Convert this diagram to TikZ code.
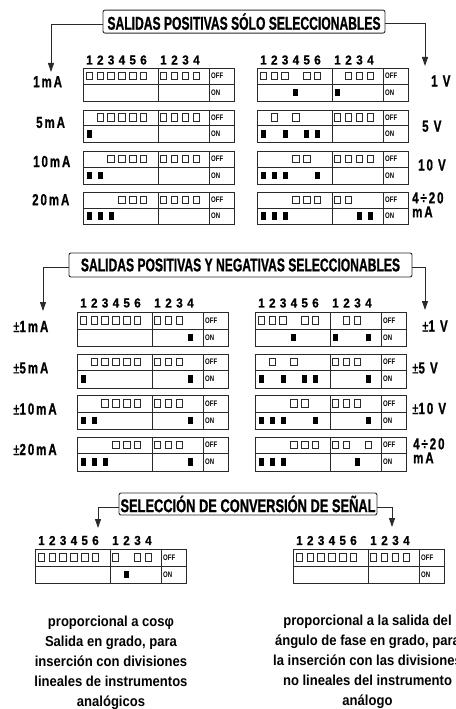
\documentclass[tikz,border=0pt]{standalone}
\usepackage{fontspec}
\setmainfont{Liberation Sans}
\newfontfamily\tf[FakeStretch=0.655,FakeBold=0.8]{Liberation Sans}
\newfontfamily\tfc[FakeStretch=0.695,FakeBold=0.8]{Liberation Sans}
\newfontfamily\df[FakeStretch=0.9,FakeBold=0.6]{Liberation Sans}
\newfontfamily\swf[FakeStretch=0.75]{Liberation Sans}
\newfontfamily\lf[FakeStretch=0.72,LetterSpace=12,FakeBold=0.8]{Liberation Sans}
\newfontfamily\pf[FakeStretch=0.9]{Liberation Sans}
\usetikzlibrary{arrows.meta}
\definecolor{ln}{HTML}{2A2A2A}
\tikzset{
  tbl/.style={draw=ln, line width=0.9pt},
  pinoff/.style={draw=ln, line width=0.8pt},
  pinon/.style={fill=black},
  titlebox/.style={draw=ln, line width=0.9pt, rounded corners=2pt, minimum height=23pt, inner sep=0pt,
    font=\tf\bfseries\fontsize{18.5}{18.5}\selectfont},
  conn/.style={draw=ln, line width=0.9pt, -{Triangle[width=6pt,length=9pt]}},
  lbl/.style={font=\lf\bfseries\fontsize{16}{14}\selectfont, inner sep=0pt, anchor=west},
  dig/.style={font=\df\bfseries\fontsize{13}{13}\selectfont, inner sep=0pt},
  swl/.style={font=\swf\bfseries\fontsize{8}{8}\selectfont, inner sep=0pt, anchor=west},
  para/.style={font=\pf\bfseries\fontsize{14.5}{20}\selectfont, inner sep=0pt, anchor=base},
}
% #1 name, #2 x, #3 y top, #4 height, #5 col1 off, #6 col1 on, #7 col2 off, #8 col2 on
\newcommand\dipsw[8]{%
  \begin{scope}[shift={(#2,#3)}]
    \node[tbl, anchor=north west, minimum width=151pt, minimum height=#4pt, inner sep=0pt] (#1) at (0,0) {};
    \draw[tbl] (75,0) -- (75,#4) (126,0) -- (126,#4) (0,#4/2) -- (151,#4/2);
    \node[swl] (#1-off) at (128,#4/4) {OFF};
    \node[swl] (#1-on) at (128,3*#4/4) {ON};
    \foreach \i in {#5} {\ifnum\i>0 \draw[pinoff] ({6.5+10.8*(\i-1)-3.25},{#4/4-3.75}) rectangle ++(6.5,7.5);\fi}
    \foreach \i in {#6} {\ifnum\i>0 \fill[pinon] ({6.5+10.8*(\i-1)-2.5},{3*#4/4-3.75}) rectangle ++(5,7.5);\fi}
    \foreach \i in {#7} {\ifnum\i>0 \draw[pinoff] ({75+5.5+11*(\i-1)-3.25},{#4/4-3.75}) rectangle ++(6.5,7.5);\fi}
    \foreach \i in {#8} {\ifnum\i>0 \fill[pinon] ({75+5.5+11*(\i-1)-2.5},{3*#4/4-3.75}) rectangle ++(5,7.5);\fi}
  \end{scope}}
% #1 name, #2 x, #3 y centre
\newcommand\diphead[3]{%
  \begin{scope}[shift={(#2,#3)}]
    \foreach \i in {1,...,6} {\node[dig] (#1-a\i) at ({6.5+10.8*(\i-1)},0) {\i};}
    \foreach \i in {1,...,4} {\node[dig] (#1-b\i) at ({75+5.5+11*(\i-1)},0) {\i};}
  \end{scope}}
\begin{document}
\begin{tikzpicture}[x=1pt,y=-1pt]
\useasboundingbox (0,0) rectangle (455,709);
\clip (0,0) rectangle (455,709);
\fill[white] (0,0) rectangle (455,709);

% ---------- Section 1 ----------
\node[titlebox, minimum width=282pt] (t1) at (244,21.6) {SALIDAS POSITIVAS SÓLO SELECCIONABLES};
\coordinate (t1l) at (51,72);
\coordinate (t1r) at (425,66);
\draw[conn] ([yshift=-2.5pt]t1.west) -| (t1l);
\draw[conn] ([yshift=-2pt]t1.east) -| (t1r);

\diphead{h1a}{83}{60}
\diphead{h1b}{257}{60}
\dipsw{s1a}{83}{68}{32.5}{1,2,3,4,5,6}{0}{1,2,3,4}{0}
\dipsw{s1b}{83}{109.5}{32.5}{2,3,4,5,6}{1}{1,2,3,4}{0}
\dipsw{s1c}{83}{151}{32.5}{3,4,5,6}{1,2}{1,2,3,4}{0}
\dipsw{s1d}{83}{192}{32}{4,5,6}{1,2,3}{1,2,3,4}{0}
\dipsw{s1e}{257}{68}{32.5}{1,2,3,5,6}{4}{2,3,4}{1}
\dipsw{s1f}{257}{109.5}{32.5}{2,4}{1,3,5,6}{1,2,3,4}{0}
\dipsw{s1g}{257}{151}{32.5}{4,5}{1,2,3,6}{1,2,3,4}{0}
\dipsw{s1h}{257}{192}{32}{4,5,6}{1,2,3}{1,2}{3,4}

\node[lbl] (l1a) at (33,81.7) {1mA};
\node[lbl] (l1b) at (36,122.5) {5mA};
\node[lbl] (l1c) at (33,161.5) {10mA};
\node[lbl] (l1d) at (32,199.7) {20mA};
\node[lbl] (r1a) at (431,81) {1 V};
\node[lbl] (r1b) at (422,126.3) {5 V};
\node[lbl] (r1c) at (418,165) {10 V};
\node[lbl, align=left, anchor=north west] (r1d) at (412,192) {4÷20\\mA};

% ---------- Section 2 ----------
\node[titlebox, minimum width=343pt, minimum height=24pt] (t2) at (240.5,265) {SALIDAS POSITIVAS Y NEGATIVAS SELECCIONABLES};
\coordinate (t2l) at (43,311);
\coordinate (t2r) at (425,310);
\draw[conn] ([yshift=-2pt]t2.west) -| (t2l);
\draw[conn] ([yshift=-2pt]t2.east) -| (t2r);

\diphead{h2a}{77}{303}
\diphead{h2b}{255}{303}
\dipsw{s2a}{77}{312}{34}{1,2,3,4,5,6}{0}{1,2,3}{4}
\dipsw{s2b}{77}{353.5}{34}{2,3,4,5,6}{1}{1,2,3}{4}
\dipsw{s2c}{77}{395}{34}{3,4,5,6}{1,2}{1,2,3}{4}
\dipsw{s2d}{77}{436.5}{34}{4,5,6}{1,2,3}{1,2,3}{4}
\dipsw{s2e}{255}{312}{34}{1,2,3,5,6}{4}{2,3}{1,4}
\dipsw{s2f}{255}{353.5}{34}{2,4}{1,3,5,6}{1,2,3}{4}
\dipsw{s2g}{255}{395}{34}{4,5}{1,2,3,6}{1,2,3}{4}
\dipsw{s2h}{255}{436.5}{34}{4,5,6}{1,2,3}{1,2,4}{3}

\node[lbl] (l2a) at (13,326.5) {{\mdseries ±}1mA};
\node[lbl] (l2b) at (13,368) {{\mdseries ±}5mA};
\node[lbl] (l2c) at (13,409) {{\mdseries ±}10mA};
\node[lbl] (l2d) at (13,449.5) {{\mdseries ±}20mA};
\node[lbl] (r2a) at (422,326) {{\mdseries ±}1 V};
\node[lbl] (r2b) at (412,368) {{\mdseries ±}5 V};
\node[lbl] (r2c) at (412,408.5) {{\mdseries ±}10 V};
\node[lbl, align=left, anchor=north west] (r2d) at (413,438) {4÷20\\mA};

% ---------- Section 3 ----------
\node[titlebox, minimum width=258pt, minimum height=22pt, font=\tfc\bfseries\fontsize{18.5}{18.5}\selectfont] (t3) at (248,504) {SELECCIÓN DE CONVERSIÓN DE SEÑAL};
\coordinate (t3l) at (98,528);
\coordinate (t3r) at (392,527);
\draw[conn] ([yshift=-3pt]t3.west) -| (t3l);
\draw[conn] ([yshift=-3pt]t3.east) -| (t3r);

\diphead{h3a}{35}{540.5}
\diphead{h3b}{293}{540.5}
\dipsw{s3a}{35}{549}{34}{1,2,3,4,5,6}{0}{1,3,4}{2}
\dipsw{s3b}{293}{549}{34}{1,2,3,4,5,6}{0}{1,2,3,4}{0}

\node[para] (p1) at (111,626) {proporcional a cosφ};
\node[para] (p2) at (111,646) {Salida en grado, para};
\node[para] (p3) at (111,666) {inserción con divisiones};
\node[para] (p4) at (111,686) {lineales de instrumentos};
\node[para] (p5) at (111,706) {analógicos};
\node[para] (q1) at (367.5,625) {proporcional a la salida del};
\node[para] (q2) at (367.5,645) {ángulo de fase en grado, para};
\node[para] (q3) at (367.5,665) {la inserción con las divisiones};
\node[para] (q4) at (367.5,685) {no lineales del instrumento};
\node[para] (q5) at (367.5,705) {análogo};
\end{tikzpicture}
\end{document}
